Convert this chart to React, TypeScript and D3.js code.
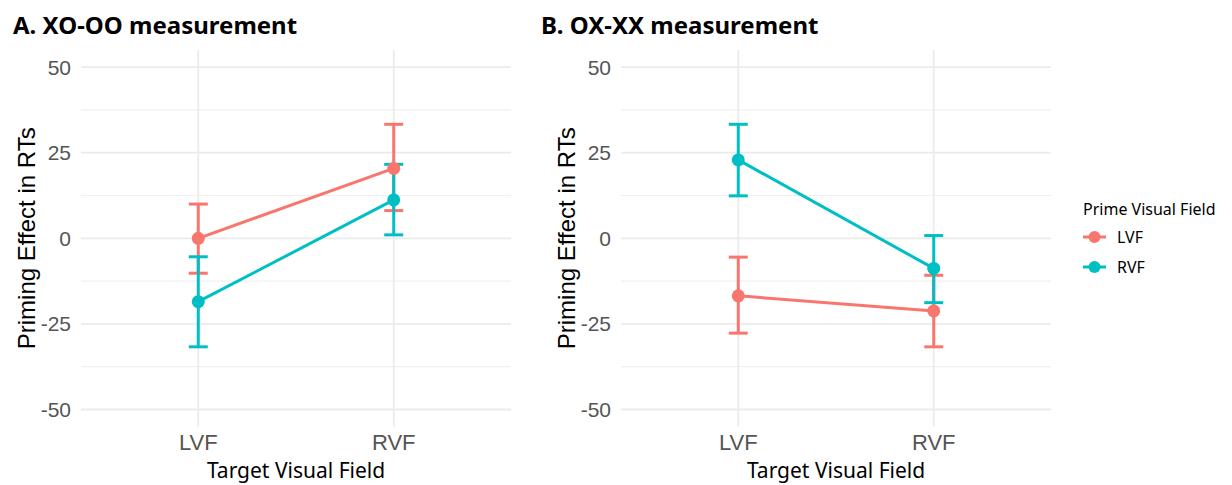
import React, { useEffect, useRef } from 'react';
import * as d3 from 'd3';

// categories
const targetFields = ['LVF', 'RVF'];
const primeFields = ['LVF', 'RVF'];
const yTicks = [-50, -25, 0, 25, 50];
const yMinorTicks = [-37.5, -12.5, 12.5, 37.5];

// A. XO-OO measurement (per target field: LVF, RVF)
const xoooLvfMean = [0, 20.4];
const xoooLvfLow = [-10.2, 8.1];
const xoooLvfHigh = [10.0, 33.3];
const xoooRvfMean = [-18.5, 11.2];
const xoooRvfLow = [-31.7, 1.0];
const xoooRvfHigh = [-5.4, 21.6];

// B. OX-XX measurement
const oxxxLvfMean = [-16.8, -21.2];
const oxxxLvfLow = [-27.7, -31.7];
const oxxxLvfHigh = [-5.5, -10.8];
const oxxxRvfMean = [22.9, -8.8];
const oxxxRvfLow = [12.4, -18.8];
const oxxxRvfHigh = [33.3, 0.8];

const panels = [
  {
    title: 'A. XO-OO measurement',
    series: [
      { mean: xoooLvfMean, low: xoooLvfLow, high: xoooLvfHigh },
      { mean: xoooRvfMean, low: xoooRvfLow, high: xoooRvfHigh },
    ],
  },
  {
    title: 'B. OX-XX measurement',
    series: [
      { mean: oxxxLvfMean, low: oxxxLvfLow, high: oxxxLvfHigh },
      { mean: oxxxRvfMean, low: oxxxRvfLow, high: oxxxRvfHigh },
    ],
  },
];

const colors = ['#F8766D', '#00BFC4'];
const sansKR = '"Noto Sans", "Open Sans", sans-serif';
const sansAR = '"Liberation Sans", Arial, sans-serif';

function App() {
  const svgRef = useRef<SVGSVGElement>(null);

  useEffect(() => {
    const svg = d3.select(svgRef.current);
    svg.selectAll('*').remove();

    const color = d3.scaleOrdinal<string, string>().domain(primeFields).range(colors);

    panels.forEach((panel, pi) => {
      const ox = pi * 540;
      const g = svg.append('g').attr('transform', `translate(${ox},0)`);

      const x = d3.scalePoint<string>().domain(targetFields).range([81, 511]).padding(0.6);
      const y = d3.scaleLinear().domain([-55, 55]).range([426.6, 50]);

      // title
      g.append('text')
        .attr('x', pi === 0 ? 13 : 1)
        .attr('y', 34)
        .attr('font-family', sansKR)
        .attr('font-weight', 700)
        .attr('font-size', 24)
        .attr('fill', '#000')
        .text(panel.title);

      // grid
      g.selectAll('.minor')
        .data(yMinorTicks)
        .enter()
        .append('line')
        .attr('x1', 81).attr('x2', 511)
        .attr('y1', (d) => y(d)).attr('y2', (d) => y(d))
        .attr('stroke', '#f0f0f0')
        .attr('stroke-width', 1.2);
      g.selectAll('.major')
        .data(yTicks)
        .enter()
        .append('line')
        .attr('x1', 81).attr('x2', 511)
        .attr('y1', (d) => y(d)).attr('y2', (d) => y(d))
        .attr('stroke', '#ebebeb')
        .attr('stroke-width', 1.8);
      g.selectAll('.vgrid')
        .data(targetFields)
        .enter()
        .append('line')
        .attr('x1', (d) => x(d)!).attr('x2', (d) => x(d)!)
        .attr('y1', 50).attr('y2', 426.6)
        .attr('stroke', '#ebebeb')
        .attr('stroke-width', 1.8);

      // y tick labels
      g.selectAll('.ytick')
        .data(yTicks)
        .enter()
        .append('text')
        .attr('x', 71)
        .attr('y', (d) => y(d))
        .attr('dy', '0.36em')
        .attr('text-anchor', 'end')
        .attr('font-family', sansAR)
        .attr('font-size', 21)
        .attr('fill', '#555')
        .text((d) => String(d));

      // x tick labels
      g.selectAll('.xtick')
        .data(targetFields)
        .enter()
        .append('text')
        .attr('x', (d) => x(d)!)
        .attr('y', 450)
        .attr('text-anchor', 'middle')
        .attr('font-family', sansAR)
        .attr('font-size', 22)
        .attr('fill', '#555')
        .text((d) => d);

      // axis titles
      g.append('text')
        .attr('x', 296)
        .attr('y', 478)
        .attr('text-anchor', 'middle')
        .attr('font-family', sansKR)
        .attr('font-size', 21)
        .attr('fill', '#000')
        .text('Target Visual Field');
      g.append('text')
        .attr('transform', `translate(35,${y(0)}) rotate(-90)`)
        .attr('text-anchor', 'middle')
        .attr('font-family', sansAR)
        .attr('font-size', 24)
        .attr('fill', '#000')
        .text('Priming Effect in RTs');

      const capHalf = 9.5;
      // error bars
      panel.series.forEach((s, si) => {
        const eb = g.append('g').attr('stroke', color(primeFields[si])).attr('stroke-width', 3).attr('fill', 'none');
        targetFields.forEach((t, ti) => {
          const cx = x(t)!;
          eb.append('line').attr('x1', cx).attr('x2', cx).attr('y1', y(s.low[ti])).attr('y2', y(s.high[ti]));
          eb.append('line').attr('x1', cx - capHalf).attr('x2', cx + capHalf).attr('y1', y(s.low[ti])).attr('y2', y(s.low[ti]));
          eb.append('line').attr('x1', cx - capHalf).attr('x2', cx + capHalf).attr('y1', y(s.high[ti])).attr('y2', y(s.high[ti]));
        });
      });

      // lines
      const line = d3.line<number>().x((_, i) => x(targetFields[i])!).y((d) => y(d));
      panel.series.forEach((s, si) => {
        g.append('path')
          .attr('d', line(s.mean))
          .attr('fill', 'none')
          .attr('stroke', color(primeFields[si]))
          .attr('stroke-width', 3);
      });

      // points
      panel.series.forEach((s, si) => {
        g.selectAll(`.pt${si}`)
          .data(s.mean)
          .enter()
          .append('circle')
          .attr('cx', (_, i) => x(targetFields[i])!)
          .attr('cy', (d) => y(d))
          .attr('r', 6.5)
          .attr('fill', color(primeFields[si]));
      });
    });

    // legend
    const lg = svg.append('g').attr('transform', 'translate(1083,0)');
    lg.append('text')
      .attr('x', 0)
      .attr('y', 215)
      .attr('font-family', sansKR)
      .attr('font-size', 16)
      .attr('fill', '#000')
      .text('Prime Visual Field');
    primeFields.forEach((p, i) => {
      const ky = 237 + i * 30;
      lg.append('line')
        .attr('x1', 0).attr('x2', 23)
        .attr('y1', ky).attr('y2', ky)
        .attr('stroke', color(p))
        .attr('stroke-width', 3);
      lg.append('circle').attr('cx', 11.5).attr('cy', ky).attr('r', 6).attr('fill', color(p));
      lg.append('text')
        .attr('x', 34)
        .attr('y', ky)
        .attr('dy', '0.36em')
        .attr('font-family', sansKR)
        .attr('font-size', 16)
        .attr('fill', '#000')
        .text(p);
    });
  }, []);

  return (
    <svg
      ref={svgRef}
      width={1232}
      height={485}
      style={{ position: 'absolute', left: 0, top: 0, background: '#fff' }}
    />
  );
}

export default App;
